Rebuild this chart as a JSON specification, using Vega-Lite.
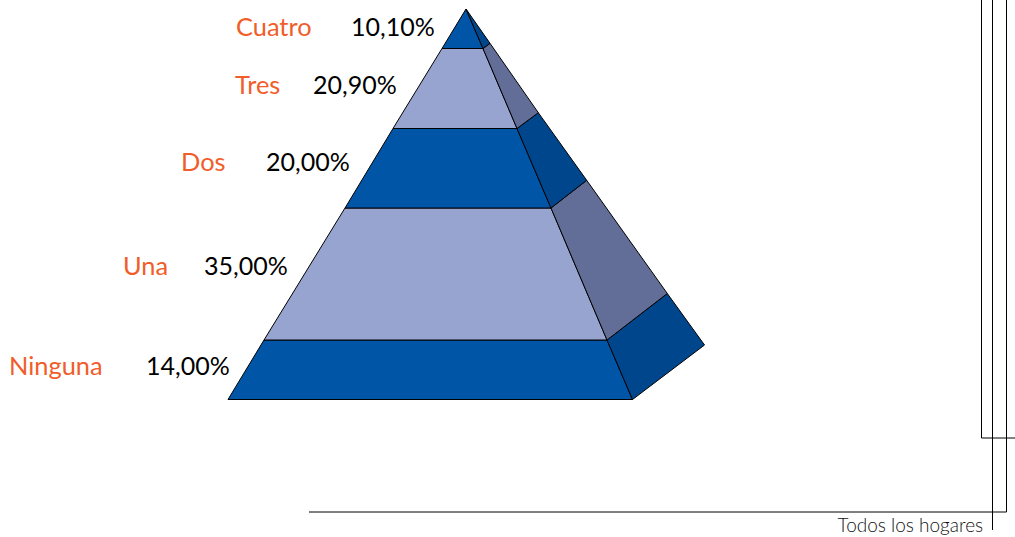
{
"$schema":"https://vega.github.io/schema/vega-lite/v6.json",
"width":1015,"height":537,"padding":0,
"autosize":{"type":"none"},
"background":"white",
"view":{"stroke":null},
"datasets":{
"caras":[
{"p":"A1","t":"frente oscuro","n":1,"x":228,"y":399.5},{"p":"A1","t":"frente oscuro","n":2,"x":632.5,"y":399.5},{"p":"A1","t":"frente oscuro","n":3,"x":607,"y":340},{"p":"A1","t":"frente oscuro","n":4,"x":264,"y":340},{"p":"A1","t":"frente oscuro","n":5,"x":228,"y":399.5},
{"p":"A2","t":"frente claro","n":1,"x":264,"y":340},{"p":"A2","t":"frente claro","n":2,"x":607,"y":340},{"p":"A2","t":"frente claro","n":3,"x":551,"y":208},{"p":"A2","t":"frente claro","n":4,"x":345,"y":208},{"p":"A2","t":"frente claro","n":5,"x":264,"y":340},
{"p":"A3","t":"frente oscuro","n":1,"x":345,"y":208},{"p":"A3","t":"frente oscuro","n":2,"x":551,"y":208},{"p":"A3","t":"frente oscuro","n":3,"x":517,"y":128.5},{"p":"A3","t":"frente oscuro","n":4,"x":393,"y":128.5},{"p":"A3","t":"frente oscuro","n":5,"x":345,"y":208},
{"p":"A4","t":"frente claro","n":1,"x":393,"y":128.5},{"p":"A4","t":"frente claro","n":2,"x":517,"y":128.5},{"p":"A4","t":"frente claro","n":3,"x":483,"y":48.5},{"p":"A4","t":"frente claro","n":4,"x":442,"y":48.5},{"p":"A4","t":"frente claro","n":5,"x":393,"y":128.5},
{"p":"A5","t":"frente oscuro","n":1,"x":442,"y":48.5},{"p":"A5","t":"frente oscuro","n":2,"x":483,"y":48.5},{"p":"A5","t":"frente oscuro","n":3,"x":466,"y":9},{"p":"A5","t":"frente oscuro","n":4,"x":442,"y":48.5},
{"p":"B1","t":"lado oscuro","n":1,"x":632.5,"y":399.5},{"p":"B1","t":"lado oscuro","n":2,"x":704.5,"y":345},{"p":"B1","t":"lado oscuro","n":3,"x":667.3,"y":293.5},{"p":"B1","t":"lado oscuro","n":4,"x":607,"y":340},{"p":"B1","t":"lado oscuro","n":5,"x":632.5,"y":399.5},
{"p":"B2","t":"lado claro","n":1,"x":607,"y":340},{"p":"B2","t":"lado claro","n":2,"x":667.3,"y":293.5},{"p":"B2","t":"lado claro","n":3,"x":586.7,"y":180.3},{"p":"B2","t":"lado claro","n":4,"x":551,"y":208},{"p":"B2","t":"lado claro","n":5,"x":607,"y":340},
{"p":"B3","t":"lado oscuro","n":1,"x":551,"y":208},{"p":"B3","t":"lado oscuro","n":2,"x":586.7,"y":180.3},{"p":"B3","t":"lado oscuro","n":3,"x":538.3,"y":112.7},{"p":"B3","t":"lado oscuro","n":4,"x":517,"y":128.5},{"p":"B3","t":"lado oscuro","n":5,"x":551,"y":208},
{"p":"B4","t":"lado claro","n":1,"x":517,"y":128.5},{"p":"B4","t":"lado claro","n":2,"x":538.3,"y":112.7},{"p":"B4","t":"lado claro","n":3,"x":490,"y":43.3},{"p":"B4","t":"lado claro","n":4,"x":483,"y":48.5},{"p":"B4","t":"lado claro","n":5,"x":517,"y":128.5},
{"p":"B5","t":"lado oscuro","n":1,"x":483,"y":48.5},{"p":"B5","t":"lado oscuro","n":2,"x":490,"y":43.3},{"p":"B5","t":"lado oscuro","n":3,"x":466,"y":9},{"p":"B5","t":"lado oscuro","n":4,"x":483,"y":48.5}
],
"marco":[
{"l":"a","n":1,"x":981.5,"y":0},{"l":"a","n":2,"x":981.5,"y":438},{"l":"a","n":3,"x":1015,"y":438},
{"l":"b","n":1,"x":992.5,"y":0},{"l":"b","n":2,"x":992.5,"y":530},
{"l":"c","n":1,"x":1006.5,"y":0},{"l":"c","n":2,"x":1006.5,"y":512},{"l":"c","n":3,"x":309,"y":512}
],
"etiquetas":[
{"categoria":"Cuatro","valor":"10,10%","xc":236,"xv":351,"y":36},
{"categoria":"Tres","valor":"20,90%","xc":235,"xv":313,"y":94},
{"categoria":"Dos","valor":"20,00%","xc":181,"xv":266,"y":170.5},
{"categoria":"Una","valor":"35,00%","xc":123,"xv":204,"y":275},
{"categoria":"Ninguna","valor":"14,00%","xc":9,"xv":146,"y":374.5}
],
"nota":[{"texto":"Todos los hogares","x":837.5,"y":531.5}]
},
"layer":[
{"data":{"name":"marco"},
 "mark":{"type":"line","stroke":"#000000","strokeWidth":1,"interpolate":"linear"},
 "encoding":{
  "x":{"field":"x","type":"quantitative","scale":{"domain":[0,1015],"nice":false,"zero":false},"axis":null},
  "y":{"field":"y","type":"quantitative","scale":{"domain":[537,0],"nice":false,"zero":false},"axis":null},
  "detail":{"field":"l"},
  "order":{"field":"n","type":"quantitative"}}},
{"data":{"name":"caras"},
 "mark":{"type":"line","stroke":"#000000","strokeWidth":1,"strokeJoin":"miter"},
 "encoding":{
  "x":{"field":"x","type":"quantitative","axis":null},
  "y":{"field":"y","type":"quantitative","axis":null},
  "detail":{"field":"p"},
  "order":{"field":"n","type":"quantitative"},
  "fill":{"field":"t","type":"nominal","legend":null,
   "scale":{"domain":["frente oscuro","frente claro","lado oscuro","lado claro"],"range":["#0055A6","#98A4D0","#00468C","#636E98"]}}}},
{"data":{"name":"etiquetas"},
 "mark":{"type":"text","align":"left","baseline":"alphabetic","font":"Lato","fontSize":25.4,"fill":"#F15D2A"},
 "encoding":{"x":{"field":"xc","type":"quantitative"},"y":{"field":"y","type":"quantitative"},"text":{"field":"categoria"}}},
{"data":{"name":"etiquetas"},
 "mark":{"type":"text","align":"left","baseline":"alphabetic","font":"Lato","fontSize":25,"fill":"#000000"},
 "encoding":{"x":{"field":"xv","type":"quantitative"},"y":{"field":"y","type":"quantitative"},"text":{"field":"valor"}}},
{"data":{"name":"nota"},
 "mark":{"type":"text","align":"left","baseline":"alphabetic","font":"Lato","fontWeight":300,"fontSize":19,"fill":"#111111"},
 "encoding":{"x":{"field":"x","type":"quantitative"},"y":{"field":"y","type":"quantitative"},"text":{"field":"texto"}}}
]
}
